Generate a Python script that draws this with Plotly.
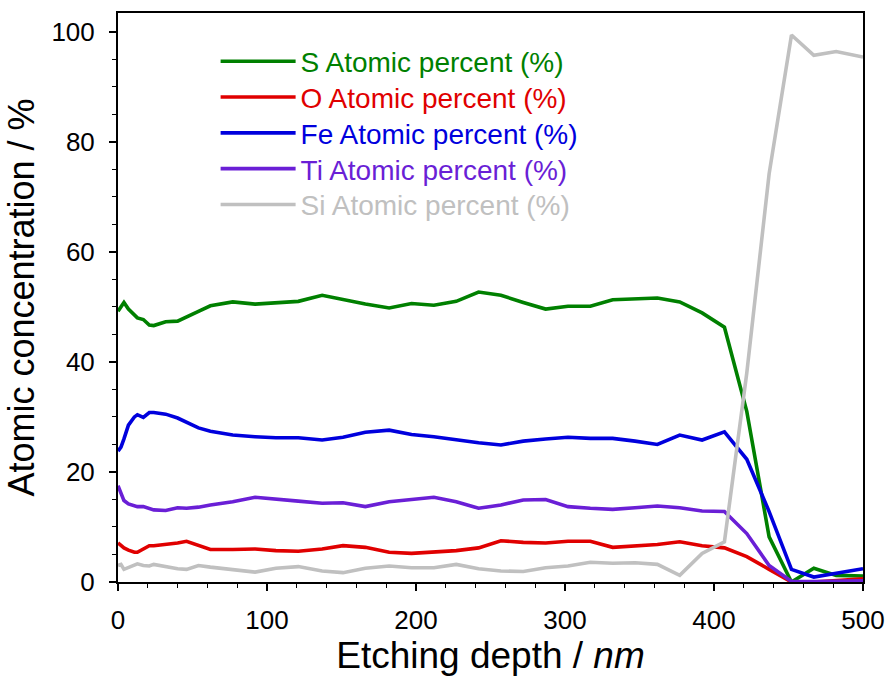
import plotly.graph_objects as go

depth = [0, 2, 4, 7, 11, 13, 17, 21, 24, 32, 40, 46, 54, 62, 77, 92, 106, 121, 137, 151,
         166, 182, 197, 212, 227, 242, 257, 272, 287, 302, 317, 332, 347, 362, 377, 392,
         407, 422, 437, 452, 467, 482, 500]

s_pct = [49.2, 50.0, 50.8, 49.6, 48.4, 48.0, 47.7, 46.7, 46.6, 47.3, 47.4, 48.1, 49.2, 50.2,
         50.9, 50.5, 50.8, 51.0, 52.1, 51.3, 50.5, 49.8, 50.6, 50.3, 51.0, 52.7, 52.1, 50.8,
         49.6, 50.1, 50.1, 51.3, 51.4, 51.6, 50.9, 48.9, 46.3, 31.0, 8.2, 0.0, 2.5, 1.2, 1.1]

o_pct = [7.1, 6.6, 6.2, 5.8, 5.4, 5.4, 6.0, 6.6, 6.6, 6.8, 7.1, 7.4, 6.6, 5.9, 5.9, 6.0, 5.7,
         5.6, 6.0, 6.6, 6.3, 5.4, 5.2, 5.5, 5.7, 6.2, 7.5, 7.2, 7.1, 7.4, 7.4, 6.3, 6.6, 6.8,
         7.3, 6.6, 6.2, 4.6, 2.3, 0.0, 0.0, 0.2, 0.6]

fe_pct = [23.8, 24.5, 26.0, 28.5, 30.0, 30.4, 29.9, 30.8, 30.8, 30.5, 29.8, 29.1, 28.0, 27.4,
          26.7, 26.4, 26.2, 26.2, 25.8, 26.3, 27.2, 27.6, 26.8, 26.4, 25.8, 25.3, 24.9, 25.6,
          26.0, 26.3, 26.1, 26.1, 25.6, 25.0, 26.7, 25.8, 27.3, 22.3, 12.8, 2.3, 0.9, 1.6, 2.4]

ti_pct = [17.5, 16.0, 14.8, 14.2, 13.8, 13.7, 13.7, 13.4, 13.1, 13.0, 13.5, 13.4, 13.6, 14.0,
          14.6, 15.4, 15.0, 14.7, 14.3, 14.4, 13.7, 14.6, 15.0, 15.4, 14.6, 13.4, 14.0, 14.9,
          15.0, 13.7, 13.4, 13.2, 13.5, 13.8, 13.5, 12.9, 12.8, 8.8, 3.0, 0.1, 0.1, 0.1, 0.2]

si_pct = [3.0, 3.2, 2.3, 2.6, 3.0, 3.3, 3.0, 2.9, 3.2, 2.8, 2.4, 2.3, 3.0, 2.7, 2.3, 1.8, 2.5,
          2.8, 2.0, 1.7, 2.5, 2.9, 2.6, 2.6, 3.2, 2.4, 2.0, 1.9, 2.6, 2.9, 3.6, 3.4, 3.5, 3.2,
          1.2, 5.2, 7.3, 38.0, 74.2, 99.4, 95.7, 96.4, 95.4]

series_names = ["S Atomic percent (%)", "O Atomic percent (%)", "Fe Atomic percent (%)",
                "Ti Atomic percent (%)", "Si Atomic percent (%)"]
series_values = [s_pct, o_pct, fe_pct, ti_pct, si_pct]
series_colors = ["#008000", "#e00000", "#0000dd", "#6a1fd6", "#c0c0c0"]

FONT = "Arial, Liberation Sans, sans-serif"
W, H = 896, 680
ML, MR, MT, MB = 118, 30, 11, 94
plot_h = H - MT - MB

fig = go.Figure()
legend_ids = ["legend", "legend2", "legend3", "legend4", "legend5"]
for name, vals, color, lid in zip(series_names, series_values, series_colors, legend_ids):
    fig.add_trace(go.Scatter(
        x=depth, y=vals, mode="lines",
        line=dict(color=color, width=3.6),
        name=name, legend=lid,
    ))

# one legend box per series, stacked with fixed row spacing
row0_px, row_step_px = 60, 36.2
legend_layout = {}
for i, (lid, color) in enumerate(zip(legend_ids, series_colors)):
    yc = row0_px + i * row_step_px
    legend_layout[lid] = dict(
        x=(216 - ML) / (W - ML - MR), y=(H - MB - yc) / plot_h,
        xanchor="left", yanchor="middle",
        bgcolor="rgba(0,0,0,0)", borderwidth=0,
        font=dict(family=FONT, size=28, color=color),
        itemwidth=75,
    )

fig.update_layout(
    width=W, height=H,
    margin=dict(l=ML, r=MR, t=MT, b=MB),
    plot_bgcolor="white", paper_bgcolor="white",
    font=dict(family=FONT, size=26, color="black"),
    showlegend=True,
    **legend_layout,
)

fig.update_xaxes(
    range=[0, 500], tickvals=[0, 100, 200, 300, 400, 500],
    showgrid=False, zeroline=False,
    showline=True, linecolor="black", linewidth=2, mirror=True,
    ticks="outside", ticklen=7, tickwidth=1.5, tickcolor="black",
    minor=dict(dtick=20, ticks="outside", ticklen=4, tickwidth=1, tickcolor="black", showgrid=False),
    tickfont=dict(size=26), ticklabelstandoff=7,
    title=dict(text="Etching depth / <i>nm</i>", font=dict(size=37), standoff=8),
)
fig.update_yaxes(
    range=[0, 103.4], tickvals=[0, 20, 40, 60, 80, 100],
    showgrid=False, zeroline=False,
    showline=True, linecolor="black", linewidth=2, mirror=True,
    ticks="outside", ticklen=7, tickwidth=1.5, tickcolor="black",
    minor=dict(dtick=5, ticks="outside", ticklen=4, tickwidth=1, tickcolor="black", showgrid=False),
    tickfont=dict(size=26), ticklabelstandoff=9,
    title=dict(text="Atomic concentration / %", font=dict(size=36), standoff=6),
)

fig.write_html("out.html", config={"displayModeBar": False},
               post_script="document.body.style.margin='0';")
